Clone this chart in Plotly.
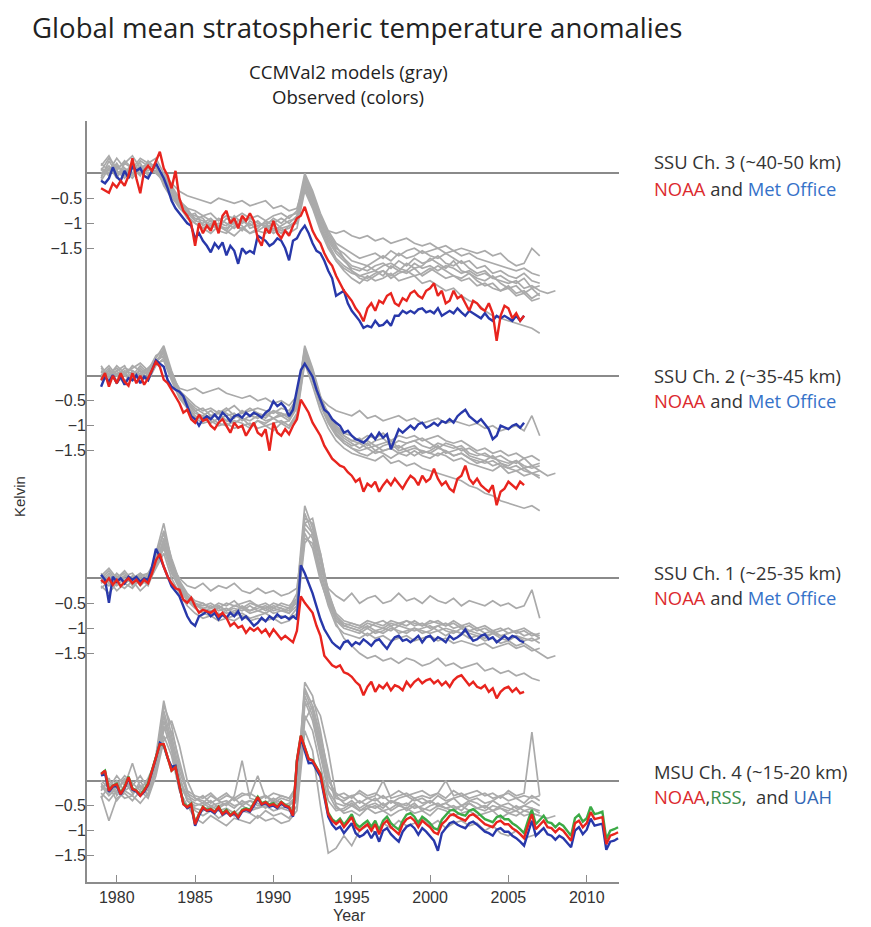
import plotly.graph_objects as go

# ---------------- data (K anomalies) ----------------
# Observed, quarterly steps starting 1979.0
SSU3_NOAA = [-0.3,-0.35,-0.39,-0.2,-0.28,-0.15,-0.25,-0.05,0.3,-0.1,-0.4,0.05,0.15,0.05,0.25,0.43,0.1,-0.05,-0.3,0.05,
             -0.5,-0.75,-0.85,-1.0,-1.45,-1.0,-1.2,-1.05,-1.15,-0.95,-1.2,-0.85,-0.75,-1.0,-0.9,-1.1,-0.85,-0.95,-0.8,-0.95,
             -1.3,-1.45,-1.1,-1.2,-0.95,-1.2,-1.3,-1.15,-1.25,-1.05,-0.9,-0.85,-0.67,-0.9,-1.15,-1.3,-1.4,-1.6,-1.75,-1.85,
             -2.05,-2.2,-2.35,-2.45,-2.55,-2.7,-2.8,-2.96,-2.7,-2.6,-2.75,-2.55,-2.6,-2.45,-2.4,-2.6,-2.65,-2.5,-2.55,-2.4,
             -2.35,-2.45,-2.5,-2.35,-2.3,-2.2,-2.45,-2.35,-2.6,-2.55,-2.35,-2.5,-2.45,-2.6,-2.75,-2.55,-2.6,-2.7,-2.75,-2.6,
             -2.8,-3.35,-2.85,-2.65,-2.7,-2.9,-2.8,-2.95,-2.85]
SSU3_METO = [-0.15,-0.2,-0.1,0.12,-0.07,-0.15,0.05,-0.1,0.15,0.05,0.1,-0.05,-0.1,0.05,0.2,0.05,-0.1,-0.3,-0.55,-0.7,
             -0.8,-0.92,-1.0,-1.05,-1.3,-1.2,-1.35,-1.45,-1.58,-1.4,-1.5,-1.38,-1.64,-1.45,-1.55,-1.81,-1.5,-1.6,-1.55,-1.6,
             -1.25,-1.3,-1.35,-1.45,-1.4,-1.3,-1.35,-1.5,-1.74,-1.35,-1.3,-1.15,-1.05,-1.2,-1.4,-1.55,-1.6,-1.75,-1.95,-2.1,
             -2.45,-2.4,-2.35,-2.6,-2.75,-2.85,-2.95,-3.09,-3.05,-3.08,-2.95,-3.05,-3.03,-2.95,-3.05,-2.85,-2.85,-2.75,-2.8,-2.75,
             -2.8,-2.72,-2.7,-2.78,-2.75,-2.8,-2.7,-2.85,-2.8,-2.75,-2.8,-2.7,-2.78,-2.85,-2.75,-2.8,-2.85,-2.9,-2.8,-2.9,
             -2.95,-2.85,-2.9,-2.85,-2.9,-2.95,-2.85,-2.95,-2.85]
SSU2_NOAA = [-0.09,0.05,-0.22,0.0,-0.15,0.05,-0.12,-0.2,0.05,-0.15,0.0,-0.18,-0.05,0.1,0.28,0.18,-0.08,-0.15,-0.28,-0.41,
             -0.55,-0.74,-0.68,-0.87,-0.94,-0.78,-0.9,-0.87,-1.0,-1.07,-0.94,-0.87,-1.0,-1.14,-0.94,-1.04,-1.0,-1.2,-1.07,-0.94,
             -1.14,-1.2,-1.07,-1.5,-0.94,-1.14,-1.2,-1.07,-1.17,-1.0,-0.87,-0.48,-0.61,-0.74,-0.94,-1.07,-1.2,-1.4,-1.53,-1.66,
             -1.73,-1.8,-1.83,-1.93,-2.0,-2.12,-2.06,-2.32,-2.16,-2.22,-2.12,-2.32,-2.19,-2.09,-2.19,-2.06,-2.16,-2.26,-2.12,-2.0,
             -2.06,-2.19,-2.0,-2.12,-2.06,-1.86,-2.06,-2.19,-2.12,-2.26,-2.32,-2.06,-2.0,-1.8,-2.06,-2.16,-2.06,-2.19,-2.26,-2.32,
             -2.19,-2.59,-2.32,-2.26,-2.12,-2.19,-2.26,-2.12,-2.19]
SSU2_METO = [-0.22,-0.02,-0.12,0.01,-0.15,-0.02,-0.18,-0.05,-0.09,0.01,-0.15,-0.02,-0.09,0.11,0.31,0.24,0.18,-0.09,-0.22,-0.28,
             -0.32,-0.41,-0.61,-0.81,-0.87,-1.0,-0.87,-0.81,-0.87,-0.78,-0.87,-0.74,-0.81,-0.91,-0.81,-0.78,-0.84,-0.74,-0.81,-0.74,
             -0.78,-0.84,-0.74,-0.68,-0.51,-0.61,-0.55,-0.64,-0.81,-0.68,-0.28,0.11,0.24,0.11,-0.02,-0.28,-0.48,-0.68,-0.74,-0.87,
             -0.94,-1.0,-1.14,-1.1,-1.2,-1.27,-1.3,-1.34,-1.27,-1.17,-1.27,-1.14,-1.24,-1.17,-1.47,-1.27,-1.07,-1.14,-1.07,-1.0,
             -1.07,-0.97,-0.94,-1.04,-1.0,-0.94,-1.0,-0.91,-0.94,-0.87,-0.94,-0.81,-0.74,-0.68,-0.81,-0.87,-0.94,-0.87,-0.97,-1.07,
             -1.27,-1.2,-1.0,-1.04,-1.07,-1.0,-0.97,-1.04,-0.94]
SSU1_NOAA = [-0.03,-0.1,0.0,-0.13,-0.03,-0.16,-0.07,0.0,-0.1,-0.03,-0.13,-0.03,-0.1,0.1,0.36,0.49,0.23,0.03,-0.1,-0.2,
             -0.23,-0.43,-0.49,-0.39,-0.56,-0.69,-0.63,-0.66,-0.69,-0.63,-0.76,-0.69,-0.79,-0.95,-0.89,-0.99,-0.95,-1.09,-0.99,-1.05,
             -0.99,-1.09,-1.02,-1.15,-1.02,-1.12,-1.22,-1.15,-1.22,-1.28,-1.05,-0.36,-0.49,-0.59,-0.69,-0.95,-1.15,-1.55,-1.64,-1.74,
             -1.78,-1.74,-1.88,-1.91,-1.97,-2.07,-2.14,-2.34,-2.17,-2.07,-2.27,-2.14,-2.2,-2.1,-2.24,-2.14,-2.17,-2.24,-2.07,-2.17,
             -2.07,-2.01,-2.1,-2.04,-2.01,-2.1,-2.04,-2.14,-2.07,-2.17,-2.04,-1.97,-1.94,-2.04,-2.14,-2.07,-2.17,-2.2,-2.14,-2.27,
             -2.2,-2.4,-2.27,-2.2,-2.17,-2.27,-2.2,-2.3,-2.27]
SSU1_METO = [0.07,-0.03,-0.49,0.03,-0.07,0.0,-0.1,0.03,-0.03,0.03,-0.07,0.0,-0.03,0.23,0.59,0.43,0.23,0.03,-0.16,-0.26,
             -0.36,-0.56,-0.76,-0.89,-0.95,-0.76,-0.72,-0.66,-0.76,-0.69,-0.82,-0.72,-0.79,-0.69,-0.76,-0.66,-0.82,-0.76,-0.86,-0.95,
             -0.89,-0.79,-0.86,-0.76,-0.82,-0.72,-0.79,-0.76,-0.82,-0.76,-0.82,0.26,0.1,-0.1,-0.3,-0.56,-0.82,-1.02,-1.15,-1.28,
             -1.35,-1.41,-1.28,-1.25,-1.35,-1.28,-1.32,-1.22,-1.28,-1.35,-1.25,-1.22,-1.32,-1.41,-1.28,-1.18,-1.15,-1.25,-1.22,-1.28,
             -1.22,-1.15,-1.28,-1.18,-1.15,-1.25,-1.18,-1.22,-1.28,-1.15,-1.22,-1.18,-1.12,-1.02,-1.15,-1.25,-1.22,-1.15,-1.12,-1.22,
             -1.18,-1.28,-1.22,-1.15,-1.22,-1.15,-1.18,-1.25,-1.28]
MSU4_NOAA = [0.13,0.2,-0.2,-0.1,-0.07,-0.27,-0.13,0.07,-0.17,-0.2,-0.3,-0.2,-0.07,0.2,0.47,0.73,0.73,0.47,0.2,0.27,
             -0.13,-0.47,-0.53,-0.47,-0.87,-0.67,-0.53,-0.6,-0.57,-0.63,-0.53,-0.67,-0.6,-0.7,-0.63,-0.73,-0.6,-0.57,-0.6,-0.47,
             -0.33,-0.47,-0.43,-0.5,-0.47,-0.53,-0.43,-0.5,-0.53,-0.7,0.4,0.9,0.67,0.43,0.4,0.27,0.13,-0.27,-0.67,-0.8,
             -0.87,-0.8,-0.93,-0.83,-0.73,-0.93,-1.0,-0.93,-0.87,-1.0,-0.87,-1.07,-0.87,-0.8,-0.93,-1.0,-1.07,-0.87,-0.77,-0.73,
             -0.8,-0.93,-0.8,-0.87,-0.93,-1.03,-1.07,-0.87,-0.8,-0.7,-0.67,-0.73,-0.77,-0.8,-0.7,-0.67,-0.73,-0.8,-0.87,-0.9,
             -0.93,-0.83,-0.8,-0.87,-0.87,-0.95,-1.0,-1.07,-1.15,-0.9,-0.67,-0.97,-0.88,-0.8,-0.93,-0.95,-1.03,-0.95,-1.0,-1.1,
             -1.2,-0.85,-0.8,-0.93,-0.85,-0.63,-0.77,-0.75,-0.73,-1.27,-1.1,-1.07,-1.03]
MSU4_RSS = [0.14,0.2,-0.18,-0.1,-0.06,-0.25,-0.12,0.08,-0.15,-0.2,-0.28,-0.18,-0.05,0.2,0.47,0.73,0.72,0.46,0.2,0.27,
            -0.12,-0.45,-0.52,-0.46,-0.85,-0.66,-0.52,-0.58,-0.56,-0.62,-0.52,-0.65,-0.58,-0.68,-0.62,-0.72,-0.58,-0.55,-0.58,-0.45,
            -0.32,-0.45,-0.42,-0.48,-0.45,-0.52,-0.42,-0.48,-0.52,-0.68,0.41,0.9,0.68,0.44,0.41,0.28,0.14,-0.25,-0.64,-0.77,
            -0.83,-0.76,-0.88,-0.78,-0.67,-0.86,-0.93,-0.86,-0.8,-0.92,-0.8,-0.99,-0.8,-0.72,-0.85,-0.92,-0.98,-0.8,-0.68,-0.65,
            -0.72,-0.85,-0.72,-0.78,-0.85,-0.95,-0.98,-0.78,-0.7,-0.6,-0.58,-0.64,-0.68,-0.7,-0.6,-0.57,-0.63,-0.7,-0.77,-0.8,
            -0.83,-0.73,-0.7,-0.77,-0.77,-0.85,-0.9,-0.97,-1.05,-0.8,-0.58,-0.87,-0.78,-0.7,-0.83,-0.85,-0.93,-0.85,-0.9,-1.0,
            -1.1,-0.75,-0.68,-0.82,-0.75,-0.52,-0.67,-0.65,-0.62,-1.17,-1.0,-0.97,-0.93]
MSU4_UAH = [0.1,0.15,-0.22,-0.12,-0.1,-0.28,-0.15,0.05,-0.18,-0.22,-0.3,-0.22,-0.08,0.18,0.45,0.76,0.7,0.45,0.28,0.3,
            -0.12,-0.45,-0.55,-0.5,-0.9,-0.7,-0.55,-0.6,-0.6,-0.65,-0.55,-0.68,-0.62,-0.7,-0.65,-0.75,-0.62,-0.58,-0.62,-0.5,
            -0.35,-0.48,-0.45,-0.52,-0.5,-0.55,-0.45,-0.52,-0.55,-0.72,0.38,0.85,0.6,0.35,0.36,0.22,0.08,-0.32,-0.72,-0.88,
            -0.97,-0.92,-1.05,-0.95,-0.85,-1.05,-1.12,-1.08,-1.0,-1.15,-1.02,-1.22,-1.0,-0.95,-1.07,-1.15,-1.22,-1.02,-0.92,-0.88,
            -0.95,-1.08,-0.95,-1.02,-1.1,-1.2,-1.4,-1.05,-0.95,-0.85,-0.82,-0.88,-0.92,-0.95,-0.85,-0.82,-0.88,-0.95,-1.02,-1.05,
            -1.1,-0.98,-0.95,-1.02,-1.02,-1.1,-1.15,-1.22,-1.3,-1.05,-0.8,-1.1,-1.02,-0.95,-1.07,-1.1,-1.18,-1.1,-1.15,-1.25,
            -1.33,-1.0,-0.93,-1.07,-0.98,-0.76,-0.9,-0.88,-0.86,-1.38,-1.22,-1.2,-1.15]

# CCMVal2 models, half-year steps starting 1979.0
SSU3_MODELS = [
    [0.1,-0.05,0.15,0.0,0.2,0.05,0.1,0.2,-0.1,-0.35,-0.6,-0.75,-0.9,-0.95,-1.05,-0.9,-1.0,-1.1,-0.95,-1.05,-0.95,-1.1,-1.0,-0.9,-1.0,-0.85,-0.15,-0.5,-0.95,-1.3,-1.55,-1.7,-1.85,-1.9,-1.95,-1.85,-1.8,-1.9,-1.75,-1.85,-1.7,-1.8,-1.75,-1.65,-1.8,-1.85,-1.75,-1.9,-2.0,-1.95,-2.1,-2.05,-2.15,-2.2,-2.1,-2.3,-2.25],
    [-0.1,0.25,0.0,0.1,-0.05,0.15,0.0,0.05,-0.2,-0.45,-0.7,-0.85,-0.8,-1.05,-0.95,-1.1,-0.9,-1.0,-1.15,-0.95,-1.05,-1.0,-1.15,-1.05,-0.95,-0.9,-0.05,-0.4,-0.85,-1.2,-1.45,-1.7,-1.95,-2.05,-2.0,-1.95,-2.05,-1.85,-1.95,-1.8,-1.9,-1.85,-1.7,-1.8,-1.9,-1.75,-1.95,-2.0,-2.1,-2.15,-2.05,-2.2,-2.3,-2.25,-2.4,-2.3,-2.45],
    [0.2,0.05,0.3,0.1,0.0,0.25,0.15,0.0,-0.15,-0.3,-0.55,-0.7,-0.95,-0.85,-0.95,-1.05,-1.15,-0.95,-1.05,-1.2,-1.1,-0.95,-1.05,-1.15,-1.1,-0.95,-0.25,-0.6,-1.05,-1.4,-1.7,-1.85,-1.95,-2.1,-2.15,-2.05,-1.95,-2.05,-1.95,-2.0,-1.9,-2.05,-1.95,-1.85,-1.95,-2.05,-2.1,-2.0,-2.15,-2.25,-2.2,-2.35,-2.25,-2.4,-2.35,-2.5,-2.4],
    [0.0,0.15,-0.1,0.2,0.1,-0.05,0.25,0.1,-0.05,-0.25,-0.5,-0.8,-0.85,-0.9,-1.1,-1.0,-1.05,-0.85,-1.0,-0.9,-1.0,-1.05,-0.9,-1.0,-0.85,-0.8,-0.1,-0.45,-0.9,-1.25,-1.5,-1.6,-1.75,-1.8,-1.85,-1.75,-1.65,-1.75,-1.6,-1.7,-1.65,-1.55,-1.65,-1.7,-1.6,-1.7,-1.8,-1.75,-1.9,-1.85,-2.0,-1.95,-2.05,-2.1,-2.0,-2.15,-2.2],
    [0.05,0.3,0.1,0.2,0.35,0.1,0.2,0.3,0.0,-0.2,-0.36,-0.45,-0.5,-0.55,-0.6,-0.5,-0.55,-0.6,-0.55,-0.65,-0.6,-0.55,-0.7,-0.65,-0.75,-0.7,-0.2,-0.6,-1.0,-1.15,-1.2,-1.15,-1.25,-1.3,-1.25,-1.35,-1.3,-1.4,-1.35,-1.3,-1.4,-1.45,-1.4,-1.5,-1.45,-1.55,-1.5,-1.55,-1.6,-1.55,-1.65,-1.6,-1.75,-1.85,-1.8,-1.5,-1.65],
    [-0.15,0.1,-0.05,0.05,-0.1,0.1,0.05,0.15,-0.25,-0.5,-0.65,-0.9,-1.0,-1.1,-1.0,-1.15,-1.2,-1.05,-1.1,-1.0,-1.15,-1.2,-1.1,-1.2,-1.05,-1.0,-0.3,-0.65,-1.1,-1.45,-1.75,-1.95,-2.1,-2.2,-2.05,-2.15,-2.1,-2.0,-2.15,-2.1,-2.05,-2.2,-2.15,-2.25,-2.35,-2.3,-2.45,-2.55,-2.6,-2.75,-2.85,-2.9,-2.95,-3.0,-3.05,-3.1,-3.2],
    [0.1,0.0,0.2,-0.05,0.15,0.0,0.1,0.05,-0.1,-0.4,-0.65,-0.8,-0.95,-1.0,-0.9,-1.05,-1.1,-1.0,-0.9,-1.1,-1.05,-1.0,-0.95,-1.1,-1.05,-0.95,-0.2,-0.55,-1.0,-1.35,-1.6,-1.75,-1.9,-1.95,-1.85,-1.95,-1.85,-1.8,-1.9,-1.95,-1.8,-1.9,-1.85,-1.95,-1.85,-1.9,-2.0,-1.95,-2.05,-2.0,-2.1,-2.15,-2.2,-2.15,-2.3,-2.25,-2.35,-2.4,-2.35],
    [-0.05,0.1,0.05,-0.1,0.1,0.2,-0.05,0.15,-0.2,-0.4,-0.6,-0.85,-1.0,-1.1,-1.2,-1.05,-1.15,-1.25,-1.1,-1.2,-1.15,-1.05,-1.2,-1.1,-1.2,-1.1,-0.35,-0.7,-1.15,-1.5,-1.75,-1.9,-2.0,-2.05,-2.1,-2.0,-1.95,-2.1,-2.0,-1.95,-2.05,-2.0,-1.9,-2.0,-2.1,-2.05,-2.15,-2.1,-2.25,-2.2,-2.3,-2.35,-2.3,-2.45,-2.4,-2.55,-2.5],
    [0.15,0.35,0.05,0.25,0.1,0.3,0.2,0.1,-0.05,-0.3,-0.55,-0.7,-0.75,-0.85,-0.8,-0.95,-0.85,-0.9,-0.8,-0.9,-0.85,-0.95,-0.85,-0.8,-0.9,-0.75,0.0,-0.35,-0.8,-1.15,-1.4,-1.5,-1.6,-1.7,-1.65,-1.6,-1.7,-1.55,-1.65,-1.55,-1.5,-1.6,-1.55,-1.5,-1.6,-1.55,-1.65,-1.6,-1.7,-1.75,-1.8,-1.85,-1.9,-1.95,-1.9,-2.0,-2.05],
]
SSU2_MODELS = [
    [0.0,0.15,-0.1,0.1,0.05,-0.05,0.1,0.3,0.45,0.05,-0.35,-0.55,-0.75,-0.8,-0.7,-0.85,-0.8,-0.75,-0.9,-0.8,-0.85,-0.75,-0.85,-0.8,-0.9,-0.6,0.4,0.0,-0.5,-0.85,-1.1,-1.25,-1.35,-1.45,-1.35,-1.5,-1.4,-1.35,-1.5,-1.45,-1.4,-1.55,-1.5,-1.4,-1.55,-1.5,-1.45,-1.6,-1.65,-1.7,-1.6,-1.75,-1.8,-1.7,-1.85,-1.8,-1.9],
    [0.2,-0.05,0.1,0.2,-0.1,0.15,0.0,0.35,0.6,0.1,-0.3,-0.5,-0.65,-0.75,-0.85,-0.7,-0.75,-0.85,-0.7,-0.8,-0.75,-0.85,-0.7,-0.75,-0.8,-0.5,0.6,0.15,-0.4,-0.8,-1.05,-1.2,-1.3,-1.25,-1.4,-1.3,-1.25,-1.4,-1.3,-1.35,-1.3,-1.25,-1.35,-1.45,-1.35,-1.4,-1.5,-1.45,-1.55,-1.6,-1.65,-1.6,-1.7,-1.75,-1.65,-1.8,-1.75],
    [-0.1,0.1,0.0,-0.15,0.1,0.0,-0.1,0.2,0.35,-0.05,-0.4,-0.6,-0.8,-0.9,-0.85,-0.95,-1.0,-0.9,-0.95,-1.05,-0.9,-1.0,-0.95,-0.9,-1.0,-0.75,0.3,-0.1,-0.6,-0.95,-1.2,-1.35,-1.45,-1.55,-1.6,-1.5,-1.55,-1.65,-1.55,-1.6,-1.5,-1.6,-1.65,-1.55,-1.6,-1.7,-1.65,-1.75,-1.8,-1.85,-1.9,-1.8,-1.95,-1.9,-2.0,-1.95,-2.05],
    [0.1,0.0,0.2,0.05,0.15,0.25,0.1,0.4,0.5,0.0,-0.3,-0.45,-0.6,-0.7,-0.65,-0.75,-0.7,-0.6,-0.75,-0.7,-0.65,-0.7,-0.75,-0.65,-0.7,-0.45,0.5,0.1,-0.45,-0.75,-1.0,-1.15,-1.2,-1.3,-1.2,-1.25,-1.15,-1.3,-1.2,-1.25,-1.2,-1.3,-1.25,-1.2,-1.3,-1.35,-1.3,-1.4,-1.5,-1.45,-1.55,-1.5,-1.6,-1.55,-1.65,-1.6,-1.7],
    [0.05,0.2,0.0,0.15,0.1,0.0,0.15,0.3,0.4,0.0,-0.25,-0.3,-0.25,-0.35,-0.3,-0.25,-0.35,-0.4,-0.45,-0.4,-0.5,-0.45,-0.55,-0.5,-0.6,-0.4,0.45,0.05,-0.45,-0.6,-0.7,-0.75,-0.8,-0.7,-0.85,-0.8,-0.9,-0.85,-0.8,-0.9,-0.85,-0.95,-0.9,-0.85,-0.95,-0.9,-0.95,-1.0,-0.95,-1.05,-1.0,-1.1,-1.05,-1.0,-1.1,-0.8,-1.2],
    [-0.05,0.1,-0.15,0.05,-0.05,0.1,-0.1,0.25,0.3,-0.1,-0.45,-0.65,-0.85,-0.95,-0.9,-1.0,-0.95,-1.05,-1.0,-0.95,-1.05,-1.0,-1.1,-0.95,-1.05,-0.8,0.25,-0.2,-0.7,-1.05,-1.3,-1.45,-1.55,-1.6,-1.65,-1.7,-1.6,-1.75,-1.7,-1.8,-1.75,-1.85,-1.9,-1.95,-2.0,-2.05,-2.1,-2.2,-2.25,-2.35,-2.4,-2.5,-2.55,-2.6,-2.65,-2.6,-2.7],
    [0.0,0.1,0.05,0.0,0.2,0.1,0.05,0.25,0.5,0.05,-0.35,-0.55,-0.7,-0.85,-0.8,-0.75,-0.9,-0.8,-0.85,-0.9,-0.8,-0.9,-0.85,-0.75,-0.85,-0.55,0.45,0.05,-0.5,-0.9,-1.15,-1.3,-1.4,-1.35,-1.45,-1.4,-1.5,-1.45,-1.4,-1.5,-1.45,-1.5,-1.55,-1.45,-1.5,-1.6,-1.55,-1.65,-1.7,-1.75,-1.7,-1.8,-1.85,-1.8,-1.9,-1.95,-1.9,-2.0,-1.95],
    [0.15,0.0,0.1,-0.1,0.0,0.2,0.05,0.25,0.55,0.0,-0.35,-0.5,-0.7,-0.65,-0.8,-0.75,-0.65,-0.8,-0.75,-0.65,-0.75,-0.8,-0.7,-0.8,-0.75,-0.5,0.55,0.1,-0.45,-0.8,-1.05,-1.2,-1.3,-1.35,-1.3,-1.4,-1.35,-1.3,-1.45,-1.35,-1.3,-1.4,-1.45,-1.35,-1.4,-1.45,-1.4,-1.55,-1.6,-1.55,-1.65,-1.7,-1.75,-1.7,-1.8,-1.85,-1.8],
    [-0.05,0.05,0.15,0.0,-0.1,0.05,0.15,0.3,0.4,-0.05,-0.4,-0.6,-0.85,-0.8,-0.95,-0.85,-0.9,-0.95,-0.85,-1.0,-0.9,-0.95,-0.85,-0.95,-0.9,-0.65,0.35,-0.05,-0.55,-0.9,-1.15,-1.35,-1.45,-1.5,-1.45,-1.55,-1.5,-1.45,-1.55,-1.5,-1.6,-1.5,-1.55,-1.6,-1.5,-1.6,-1.55,-1.65,-1.75,-1.7,-1.8,-1.75,-1.85,-1.9,-1.85,-1.95,-2.0],
]
SSU1_MODELS = [
    [-0.1,0.05,-0.15,0.0,-0.1,-0.05,0.05,0.35,0.75,0.2,-0.15,-0.4,-0.55,-0.6,-0.55,-0.65,-0.6,-0.7,-0.55,-0.65,-0.6,-0.55,-0.65,-0.6,-0.7,-0.45,1.0,0.8,0.1,-0.45,-0.85,-1.0,-1.05,-1.1,-1.0,-1.1,-1.05,-0.95,-1.1,-1.05,-1.0,-1.1,-1.05,-0.95,-1.05,-1.1,-1.0,-1.1,-1.15,-1.2,-1.1,-1.2,-1.25,-1.15,-1.25,-1.2,-1.3],
    [0.1,-0.1,0.0,0.15,-0.05,0.1,0.0,0.5,1.1,0.35,-0.05,-0.3,-0.45,-0.5,-0.6,-0.5,-0.55,-0.45,-0.6,-0.5,-0.55,-0.6,-0.5,-0.55,-0.6,-0.3,1.45,1.0,0.3,-0.35,-0.75,-0.9,-0.95,-1.0,-0.9,-0.95,-1.0,-0.9,-0.95,-0.85,-0.95,-0.9,-1.0,-0.95,-0.9,-1.0,-0.95,-1.05,-1.0,-1.1,-1.05,-1.15,-1.1,-1.05,-1.15,-1.1,-1.2],
    [-0.2,-0.05,-0.25,-0.1,-0.2,0.0,-0.15,0.25,0.6,0.1,-0.2,-0.45,-0.6,-0.7,-0.75,-0.7,-0.8,-0.75,-0.7,-0.8,-0.75,-0.7,-0.8,-0.75,-0.8,-0.6,0.8,0.7,0.0,-0.55,-0.95,-1.1,-1.15,-1.2,-1.1,-1.2,-1.15,-1.25,-1.2,-1.15,-1.25,-1.2,-1.15,-1.25,-1.2,-1.3,-1.25,-1.3,-1.35,-1.3,-1.4,-1.35,-1.3,-1.4,-1.35,-1.45,-1.4],
    [0.0,0.15,-0.05,0.05,0.1,-0.1,0.1,0.4,0.9,0.3,-0.1,-0.35,-0.5,-0.55,-0.5,-0.6,-0.5,-0.55,-0.5,-0.45,-0.55,-0.5,-0.6,-0.5,-0.55,-0.4,1.2,1.1,0.4,-0.3,-0.7,-0.85,-0.9,-0.95,-0.85,-0.9,-0.95,-0.85,-0.9,-0.95,-0.85,-0.95,-0.9,-0.85,-0.95,-0.9,-1.0,-0.95,-1.05,-1.0,-1.1,-1.05,-1.0,-1.1,-1.05,-1.15,-1.1],
    [-0.05,0.1,-0.1,0.05,0.0,0.1,-0.05,0.3,0.7,0.25,0.0,-0.15,-0.2,-0.1,-0.25,-0.15,-0.2,-0.1,-0.25,-0.3,-0.2,-0.3,-0.25,-0.35,-0.3,-0.2,1.1,0.9,0.2,-0.2,-0.35,-0.45,-0.3,-0.5,-0.4,-0.35,-0.5,-0.45,-0.3,-0.45,-0.4,-0.5,-0.35,-0.45,-0.5,-0.4,-0.55,-0.45,-0.5,-0.55,-0.45,-0.55,-0.5,-0.6,-0.55,-0.23,-0.8],
    [-0.15,-0.3,-0.1,-0.2,-0.05,-0.25,-0.1,0.2,0.5,0.0,-0.3,-0.55,-0.7,-0.8,-0.75,-0.85,-0.8,-0.85,-0.75,-0.85,-0.8,-0.85,-0.8,-0.9,-0.85,-0.7,0.7,0.9,0.5,-0.3,-0.9,-1.2,-1.35,-1.5,-1.6,-1.55,-1.65,-1.6,-1.7,-1.6,-1.65,-1.75,-1.7,-1.6,-1.75,-1.7,-1.8,-1.75,-1.7,-1.85,-1.8,-1.9,-1.85,-1.95,-1.9,-2.0,-2.05],
    [0.05,-0.1,0.1,-0.05,0.05,-0.15,0.0,0.3,0.8,0.25,-0.15,-0.4,-0.5,-0.65,-0.6,-0.55,-0.65,-0.6,-0.65,-0.55,-0.65,-0.7,-0.6,-0.65,-0.6,-0.5,1.3,0.9,0.15,-0.4,-0.8,-0.95,-1.0,-1.05,-1.15,-1.05,-1.1,-1.0,-1.05,-1.1,-1.0,-1.05,-1.1,-1.05,-1.15,-1.05,-1.1,-1.2,-1.15,-1.25,-1.2,-1.3,-1.25,-1.35,-1.3,-1.4,-1.5,-1.6,-1.55],
    [-0.05,-0.15,0.05,-0.1,0.0,0.05,-0.05,0.45,0.95,0.4,-0.05,-0.35,-0.5,-0.6,-0.65,-0.6,-0.7,-0.65,-0.6,-0.7,-0.65,-0.6,-0.7,-0.65,-0.7,-0.55,1.1,1.2,0.5,-0.25,-0.75,-0.95,-1.0,-1.05,-0.95,-1.05,-1.0,-1.05,-0.95,-1.0,-1.05,-1.0,-0.95,-1.05,-1.0,-1.05,-1.1,-1.05,-1.1,-1.15,-1.1,-1.15,-1.2,-1.15,-1.2,-1.25,-1.2],
    [0.05,0.2,0.0,0.1,-0.15,0.05,0.1,0.3,0.65,0.15,-0.2,-0.45,-0.55,-0.5,-0.6,-0.55,-0.65,-0.55,-0.6,-0.65,-0.55,-0.65,-0.55,-0.6,-0.65,-0.4,0.9,0.6,-0.05,-0.5,-0.85,-0.95,-0.9,-0.95,-1.0,-0.9,-0.85,-0.95,-0.9,-0.85,-0.9,-0.95,-0.85,-0.9,-0.95,-0.85,-0.95,-0.9,-1.0,-0.95,-1.05,-1.0,-1.1,-1.05,-1.0,-1.1,-1.15],
]
MSU4_MODELS = [
    [-0.1,-0.3,-0.15,0.0,-0.25,-0.1,-0.2,0.3,1.1,0.6,-0.1,-0.35,-0.45,-0.5,-0.4,-0.55,-0.45,-0.35,-0.5,-0.4,-0.45,-0.55,-0.4,-0.5,-0.45,-0.3,1.6,1.2,0.5,-0.2,-0.45,-0.5,-0.4,-0.55,-0.45,-0.35,-0.5,-0.4,-0.45,-0.5,-0.35,-0.45,-0.4,-0.5,-0.45,-0.35,-0.5,-0.4,-0.45,-0.55,-0.4,-0.5,-0.45,-0.55,-0.5,-0.4,-0.5],
    [-0.2,0.05,-0.3,-0.1,-0.15,-0.3,-0.05,0.5,1.6,0.9,0.2,-0.25,-0.35,-0.45,-0.3,-0.4,-0.5,-0.3,0.4,-0.35,-0.4,-0.3,-0.45,-0.35,-0.4,-0.2,1.97,1.7,1.0,0.1,-0.35,-0.4,-0.3,-0.45,-0.35,-0.4,-0.3,-0.45,-0.35,-0.3,-0.4,-0.35,-0.45,-0.3,-0.4,-0.35,-0.3,-0.4,-0.35,-0.45,-0.4,-0.3,-0.4,-0.35,-0.45,-0.3,-0.4],
    [-0.3,-0.8,-0.35,-0.25,-0.4,-0.2,-0.35,0.1,0.8,1.0,0.4,-0.2,-0.6,-0.7,-0.6,-0.75,-0.65,-0.7,-0.6,-0.65,-0.75,-0.6,-0.7,-0.65,-0.75,-0.5,1.2,1.5,0.9,0.2,-0.5,-0.65,-0.6,-0.7,-0.55,-0.65,-0.6,-0.7,-0.6,-0.55,-0.65,-0.6,-0.7,-0.55,-0.6,-0.7,-0.65,-0.6,-0.7,-0.65,-0.6,-0.75,-0.65,-0.7,-0.6,-0.65,-0.7],
    [0.0,-0.15,0.1,-0.1,0.35,-0.15,0.0,0.4,1.3,0.7,0.0,-0.3,-0.4,-0.3,-0.45,-0.35,-0.25,-0.4,-0.3,-0.25,-0.35,-0.3,-0.4,-0.3,-0.35,-0.15,1.8,1.4,0.7,-0.1,-0.3,-0.25,-0.35,-0.2,-0.3,-0.25,-0.35,-0.3,-0.2,-0.3,-0.25,-0.2,-0.3,-0.25,-0.35,-0.2,-0.3,-0.25,-0.2,-0.3,-0.25,-0.35,-0.2,-0.3,-0.25,0.97,-0.3],
    [-0.25,-0.4,-0.2,-0.35,-0.3,-0.45,-0.25,0.2,0.9,0.5,-0.2,-0.5,-0.75,-0.85,-0.7,-0.8,-0.9,-0.75,-0.8,-0.85,-0.7,-0.8,-0.75,-0.85,-0.8,-0.6,1.0,0.6,-0.5,-1.45,-1.35,-1.1,-1.3,-1.0,-0.9,-1.05,-0.85,-0.95,-0.8,-0.9,-0.85,-0.75,-0.9,-0.8,-0.95,-0.85,-0.8,-0.9,-0.85,-1.0,-0.9,-1.05,-1.1,-1.0,-1.15,-1.1,-1.05],
    [-0.15,-0.05,-0.25,0.05,-0.2,-0.1,-0.3,0.2,1.0,1.2,0.7,0.0,-0.35,-0.4,-0.5,-0.45,-0.4,-0.5,-0.45,-0.4,-0.5,-0.45,-0.35,-0.45,-0.5,-0.35,1.5,1.6,1.3,0.6,-0.3,-0.45,-0.5,-0.4,-0.5,-0.45,-0.55,-0.4,-0.5,-0.45,-0.55,-0.5,-0.4,-0.5,-0.45,-0.55,-0.5,-0.45,-0.55,-0.5,-0.6,-0.5,-0.55,-0.6,-0.5,-0.55,-0.6],
    [-0.1,-0.2,0.0,-0.2,-0.1,0.1,-0.15,0.35,1.4,0.8,0.1,-0.4,-0.5,-0.45,-0.55,-0.5,-0.45,-0.55,-0.4,-0.5,-0.55,-0.45,-0.5,-0.55,-0.5,-0.35,1.7,1.3,0.6,-0.25,-0.55,-0.6,-0.5,-0.6,-0.55,-0.5,-0.6,-0.55,-0.45,-0.6,-0.5,-0.55,-0.6,-0.5,-0.55,-0.6,-0.5,-0.6,-0.55,-0.5,-0.6,-0.55,-0.65,-0.6,-0.7,-0.65,-0.7,-0.75,-0.7],
    [-0.35,-0.1,-0.4,-0.2,-0.3,0.0,-0.3,0.25,1.2,0.7,0.05,-0.4,-0.55,-0.6,-0.5,-0.6,-0.55,-0.65,-0.5,-0.6,-0.55,-0.5,-0.6,-0.55,-0.6,-0.4,1.3,1.0,0.3,-0.4,-0.6,-0.55,-0.45,-0.6,-0.5,-0.55,-0.45,-0.6,-0.5,-0.55,-0.45,-0.6,-0.5,-0.45,-0.55,-0.5,-0.6,-0.45,-0.55,-0.6,-0.5,-0.55,-0.6,-0.5,-0.6,-0.55,-0.65],
    [-0.05,-0.25,-0.1,0.1,-0.05,-0.2,0.05,0.4,1.5,1.1,0.3,-0.2,-0.3,-0.35,-0.25,-0.4,-0.3,-0.35,-0.25,-0.3,0.1,-0.35,-0.25,-0.3,-0.35,-0.1,1.85,1.5,0.8,0.0,-0.25,-0.35,-0.3,-0.25,-0.35,-0.3,0.0,-0.35,-0.3,-0.25,-0.35,-0.3,-0.35,-0.25,0.0,-0.3,-0.25,-0.35,-0.3,-0.25,-0.35,-0.3,-0.25,-0.35,-0.3,-0.35,-0.3],
]

START_YEAR = 1979.0
OBS_STEP = 0.25
MODEL_STEP = 0.5
X_TICKS = [1980, 1985, 1990, 1995, 2000, 2005, 2010]
Y_TICKS = [-0.5, -1, -1.5]
Y_TICK_TEXT = ["\u22120.5", "\u22121", "\u22121.5"]

PANEL_LABELS = [
    ("SSU Ch. 3 (~40-50 km)", [("NOAA", "#dc2a2e"), (" and ", "#333333"), ("Met Office", "#3572c9")]),
    ("SSU Ch. 2 (~35-45 km)", [("NOAA", "#dc2a2e"), (" and ", "#333333"), ("Met Office", "#3572c9")]),
    ("SSU Ch. 1 (~25-35 km)", [("NOAA", "#dc2a2e"), (" and ", "#333333"), ("Met Office", "#3572c9")]),
    ("MSU Ch. 4 (~15-20 km)", [("NOAA", "#dc2a2e"), (",", "#333333"), ("RSS", "#3b8e4a"), (",  and ", "#333333"), ("UAH", "#3468b5")]),
]

# ---------------- layout constants (screen pixels) ----------------
PAGE_OFFSET = 8          # browser default body margin
SCREEN_W, SCREEN_H = 871, 927
W, H = SCREEN_W - PAGE_OFFSET, SCREEN_H - PAGE_OFFSET
L, R, T, B = 87, 619, 121, 882
ZERO_PX = [173.3, 375.7, 578.3, 780.7]
PX_PER_K = 50.0
LABEL_Y = [(162, 188), (375, 400), (572, 597), (771, 796)]

def px(x):
    return (x - L) / (R - L)

def py(y):
    return (B - y) / (B - T)

GRAY = "rgb(170,170,170)"
RED = "rgb(232,36,30)"
BLUE = "rgb(40,56,170)"
GREEN = "rgb(60,170,70)"

fig = go.Figure()
axis_names = ["y", "y2", "y3", "y4"]

panels = [
    (SSU3_MODELS, [(SSU3_METO, BLUE), (SSU3_NOAA, RED)]),
    (SSU2_MODELS, [(SSU2_METO, BLUE), (SSU2_NOAA, RED)]),
    (SSU1_MODELS, [(SSU1_METO, BLUE), (SSU1_NOAA, RED)]),
    (MSU4_MODELS, [(MSU4_UAH, BLUE), (MSU4_RSS, GREEN), (MSU4_NOAA, RED)]),
]

for k, (models, _) in enumerate(panels):
    for m in models:
        fig.add_trace(go.Scatter(
            x=[START_YEAR + MODEL_STEP * i for i in range(len(m))], y=m,
            mode="lines", line=dict(color=GRAY, width=1.7), yaxis=axis_names[k],
            hoverinfo="skip", showlegend=False))

for k, (_, obs) in enumerate(panels):
    for vals, col in obs:
        fig.add_trace(go.Scatter(
            x=[START_YEAR + OBS_STEP * i for i in range(len(vals))], y=vals,
            mode="lines", line=dict(color=col, width=2.4), yaxis=axis_names[k],
            hoverinfo="skip", showlegend=False))

tickfont = dict(family="Liberation Sans, Arial, sans-serif", size=16, color="#333333")
layout_axes = {}
for k, z in enumerate(ZERO_PX):
    top = (z - T) / PX_PER_K
    bottom = -(B - z) / PX_PER_K
    ax = dict(
        range=[bottom, top], tickvals=Y_TICKS, ticktext=Y_TICK_TEXT,
        ticks="inside", ticklen=7, tickwidth=1.2, tickcolor="#8c8c8c",
        showgrid=False, zeroline=True, zerolinecolor="#8a8a8a", zerolinewidth=2,
        tickfont=tickfont, anchor="x", side="left", fixedrange=True, automargin=False,
    )
    if k == 0:
        ax.update(showline=True, linecolor="#8c8c8c", linewidth=1.5)
        layout_axes["yaxis"] = ax
    else:
        ax.update(showline=False, overlaying="y")
        layout_axes["yaxis%d" % (k + 1)] = ax

def note(x, y, text, size, family="Open Sans, sans-serif", anchor="left", color="#222222", angle=0):
    return dict(x=px(x), y=py(y), xref="paper", yref="paper", text=text, textangle=angle,
                xanchor=anchor, yanchor="middle", showarrow=False,
                font=dict(family=family, size=size, color=color))

annotations = [
    note(30, 27, "Global mean stratospheric temperature anomalies", 27.6),
    note(348, 71, "CCMVal2 models (gray)", 18.6, anchor="center"),
    note(348, 96, "Observed (colors)", 18.6, anchor="center"),
    note(19, 497, "Kelvin", 15, family="Liberation Sans, Arial, sans-serif", anchor="center", color="#333333", angle=-90),
    note(349, 915, "Year", 16, family="Liberation Sans, Arial, sans-serif", anchor="center", color="#333333"),
]
for (title, parts), (y1, y2) in zip(PANEL_LABELS, LABEL_Y):
    annotations.append(note(652, y1, title, 18.4, color="#333333"))
    rich = "".join('<span style="color:%s">%s</span>' % (c, t) for t, c in parts)
    annotations.append(note(652, y2, rich, 18.4, color="#333333"))

o = PAGE_OFFSET
fig.update_layout(
    width=W, height=H, margin=dict(l=L - o, r=SCREEN_W - R, t=T - o, b=SCREEN_H - B, pad=0, autoexpand=False),
    paper_bgcolor="white", plot_bgcolor="white", showlegend=False,
    xaxis=dict(range=[1978.1, 2012.06], tickvals=X_TICKS, ticks="inside", ticklen=7,
               tickwidth=1.2, tickcolor="#8c8c8c", showline=True, linecolor="#8c8c8c", linewidth=1.5,
               showgrid=False, zeroline=False, tickfont=tickfont, fixedrange=True, automargin=False),
    annotations=annotations,
    **layout_axes,
)

fig.write_html("out.html")
